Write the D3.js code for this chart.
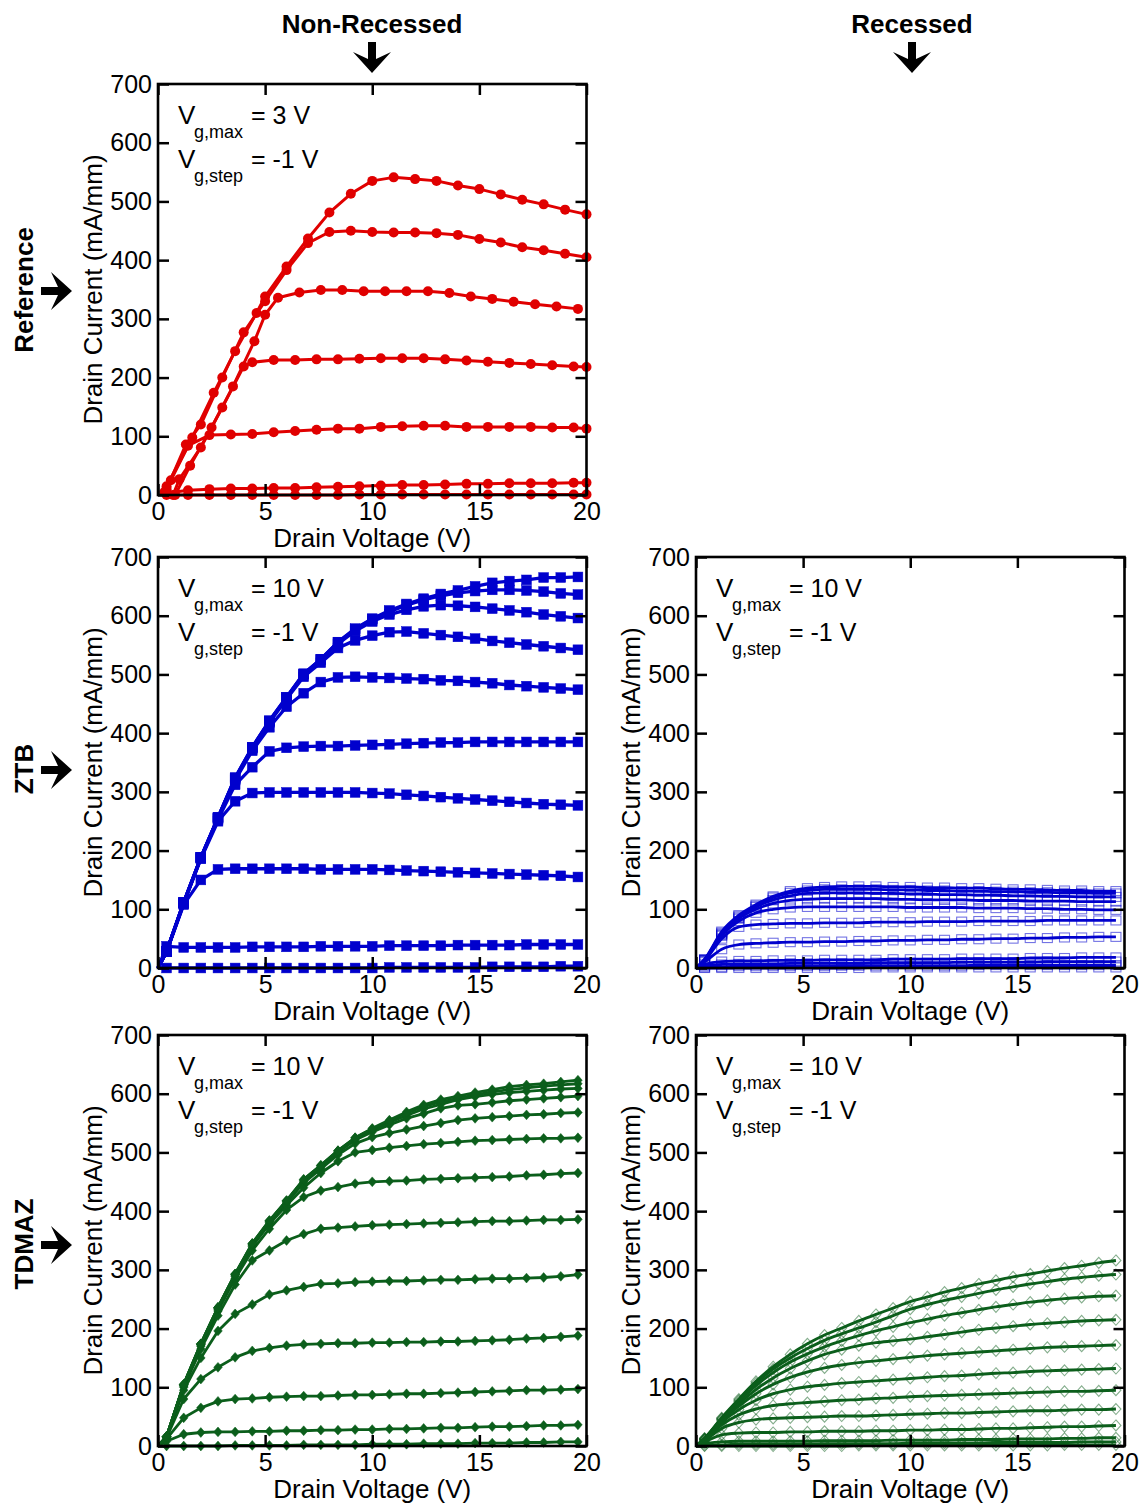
<!DOCTYPE html>
<html><head><meta charset="utf-8">
<script src="https://cdn.jsdelivr.net/npm/d3@7"></script>
<style>
html,body{margin:0;padding:0;background:#fff;}
text{font-family:"Liberation Sans",Arial,sans-serif;fill:#000;}
</style></head>
<body><svg id="c" width="1144" height="1505"></svg>
<script>
// ---------------- DATA ----------------
const xTicks = [0, 5, 10, 15, 20];
const yTicks = [0, 100, 200, 300, 400, 500, 600, 700];
const colLabels = ["Non-Recessed", "Recessed"];
const rowLabels = ["Reference", "ZTB", "TDMAZ"];
const xTitle = "Drain Voltage (V)";
const yTitle = "Drain Current (mA/mm)";
const vgMaxLabels = ["= 3 V", "= 10 V", "= 10 V", "= 10 V", "= 10 V"];
const vgStepLabels = ["= -1 V", "= -1 V", "= -1 V", "= -1 V", "= -1 V"];
const origin = [0, 0];

// Reference (non-recessed): each curve is a list of [Vd, Id]
const refCurves = [
 [[0.3,5],[0.6,25],[1.6,98],[2.6,174],[3.6,245],[4.6,310],[5,338],[6,389],[7,437],[8,481],[9,513],[10,535],[11,541],[12,538],[13,535],[14,527],[15,521],[16,512],[17,503],[18,495],[19,486],[20,478]],
 [[0.4,10],[1.3,86],[2.0,120],[3.0,200],[4.0,277],[5.0,330],[6.0,383],[7.0,429],[8,448],[9,450],[10,448],[11,447],[12,447],[13,446],[14,443],[15,436],[16,430],[17,422],[18,417],[19,411],[20,405]],
 [[0.8,0],[1.5,50],[2.5,115],[3.5,185],[4.5,262],[5.0,307],[5.6,336],[6.6,345],[7.6,349],[8.6,349],[9.6,347],[10.6,347],[11.6,347],[12.6,347],[13.6,344],[14.6,338],[15.6,334],[16.6,329],[17.6,325],[18.6,321],[19.6,317]],
 [[0.7,0],[1.0,27],[2.0,81],[3.0,149],[4.0,219],[4.4,226],[5.4,230],[6.4,230],[7.4,231],[8.4,231],[9.4,232],[10.4,233],[11.4,233],[12.4,233],[13.4,231],[14.4,229],[15.4,227],[16.4,225],[17.4,223],[18.4,221],[19.4,219],[20,218]],
 [[0.4,15],[1.4,84],[2.4,102],[3.4,103],[4.4,104],[5.4,107],[6.4,109],[7.4,111],[8.4,113],[9.4,113],[10.4,116],[11.4,117],[12.4,118],[13.4,118],[14.4,116],[15.4,116],[16.4,116],[17.4,116],[18.4,115],[19.4,115],[20,113]],
 [[0.4,3],[1.4,8],[2.4,10],[3.4,11],[4.4,11],[5.4,12],[6.4,12],[7.4,13],[8.4,14],[9.4,15],[10.4,16],[11.4,17],[12.4,17],[13.4,18],[14.4,19],[15.4,19],[16.4,20],[17.4,20],[18.4,20],[19.4,21],[20,21]],
 [[0.4,0],[1.4,0],[2.4,0],[3.4,0],[4.4,0],[5.4,0],[6.4,0],[7.4,0],[8.4,0],[9.4,1],[10.4,1],[11.4,1],[12.4,1],[13.4,1],[14.4,1],[15.4,1],[16.4,1],[17.4,1],[18.4,1],[19.4,1],[20,1]]
];

// Drain voltage sweep used by the ZTB / TDMAZ devices
const vdGrid = [0.4,1.2,2.0,2.8,3.6,4.4,5.2,6.0,6.8,7.6,8.4,9.2,10.0,10.8,11.6,12.4,13.2,14.0,14.8,15.6,16.4,17.2,18.0,18.8,19.6];

const ztbNonRecessed = [
 [0,0,0,0,0,0,0,0,0,0,0,0,0,1,1,1,1,1,1,2,2,2,2,3,3],
 [37,35,35,35,35,36,36,36,36,37,37,37,37,38,38,38,38,39,39,39,39,40,40,40,40],
 [28,108,150,168,169,169,169,169,169,168,168,168,168,167,166,165,164,163,162,161,160,159,158,157,155],
 [28,110,186,250,284,298,299,299,299,299,299,299,298,297,295,293,291,289,287,285,283,281,279,278,277],
 [28,110,187,253,312,342,369,375,377,378,378,379,380,381,382,383,384,384,385,385,385,385,385,385,385],
 [28,111,188,255,320,370,410,445,468,487,495,496,495,494,493,492,490,489,487,485,482,480,478,476,474],
 [28,111,188,256,322,374,418,458,496,520,545,558,566,572,573,570,567,564,561,557,554,551,548,545,542],
 [28,112,188,256,323,375,420,460,500,525,552,574,590,602,610,616,618,617,615,612,609,606,602,599,596],
 [28,112,188,256,324,376,421,461,501,526,555,577,594,607,618,627,634,639,642,644,644,643,641,638,636],
 [28,112,188,256,324,376,421,461,501,526,555,578,595,609,620,629,637,643,650,656,659,661,665,665,666]
];

const ztbRecessed = [
 [15,62,90,108,122,131,136,138,139,139,139,138,138,137,137,136,136,135,134,134,133,132,132,131,131],
 [14,60,88,106,120,128,132,134,134,134,134,133,133,132,132,131,131,130,130,129,129,128,128,127,127],
 [14,58,86,104,116,123,127,128,128,128,127,127,126,126,125,125,124,124,123,123,122,122,121,121,121],
 [13,56,84,100,110,115,117,118,118,118,118,117,117,116,116,116,115,115,115,114,114,114,113,113,113],
 [13,55,80,94,100,103,104,104,104,104,104,104,103,103,103,103,102,102,102,101,101,100,100,99,99],
 [12,50,70,74,75,76,76,77,77,77,78,78,78,79,79,79,80,80,80,80,81,81,81,81,81],
 [10,32,40,42,43,44,44,45,45,46,46,47,47,48,48,49,49,50,50,51,51,52,52,53,53],
 [6,11,12,12,13,13,13,14,14,14,14,15,15,15,15,16,16,16,16,17,17,17,18,18,18],
 [3,6,7,7,7,8,8,8,8,8,9,9,9,9,9,10,10,10,10,10,11,11,11,11,11],
 [1,2,3,3,3,3,3,3,4,4,4,4,4,4,4,4,5,5,5,5,5,5,5,5,5],
 [0,0,0,0,0,0,0,0,0,0,1,1,1,1,1,1,1,1,1,1,1,1,1,1,1]
];

const tdmazNonRecessed = [
 [0,0,0,0,1,1,1,1,2,2,2,2,3,3,3,4,4,4,5,5,5,6,6,7,7],
 [8,20,23,24,24,25,25,26,26,27,27,28,28,29,29,30,31,31,32,33,33,34,35,35,36],
 [12,48,65,76,80,81,83,84,85,85,86,87,87,88,89,89,90,91,92,93,94,95,95,96,97],
 [14,80,114,134,151,162,167,171,173,174,175,175,176,176,177,177,178,178,179,180,181,183,184,186,188],
 [15,95,150,196,225,241,258,265,271,276,277,279,280,281,281,282,283,283,284,285,285,286,287,289,292],
 [15,100,165,222,275,316,333,350,361,370,372,374,376,377,378,379,380,381,382,383,383,384,385,385,386],
 [16,102,170,230,285,333,370,402,424,435,441,447,450,451,452,454,455,456,457,458,459,461,462,464,465],
 [16,103,172,233,289,340,378,410,440,465,485,500,504,508,511,514,516,518,520,521,522,523,524,524,525],
 [16,104,173,234,291,342,381,414,448,472,496,515,526,533,539,545,550,555,558,560,562,564,565,567,568],
 [16,104,173,235,292,343,382,416,451,475,500,521,535,547,558,566,575,580,582,585,588,590,592,594,596],
 [16,105,174,236,292,344,383,417,452,477,502,523,538,551,563,574,582,590,595,599,602,604,606,608,609],
 [16,105,174,236,293,345,384,418,454,478,503,525,540,554,567,578,586,592,598,603,607,610,613,615,617],
 [16,105,174,236,293,345,384,418,454,478,503,525,541,555,569,581,590,596,602,607,612,615,617,620,623]
];

const tdmazRecessed = [
 [13,48,80,110,135,156,174,189,201,213,224,235,246,254,262,269,276,282,288,293,298,303,307,312,316],
 [13,47,78,107,131,150,166,180,191,201,211,222,233,241,248,254,260,266,271,276,280,284,287,290,292],
 [12,46,76,103,125,143,157,169,179,188,196,203,210,216,222,227,232,237,241,245,248,251,253,255,256],
 [12,45,72,96,116,132,145,156,164,171,176,179,182,186,190,194,198,201,204,207,209,211,213,214,215],
 [11,43,68,89,105,117,126,133,138,142,145,148,151,154,156,158,160,162,164,166,168,169,170,171,172],
 [11,40,62,78,89,96,101,104,107,109,111,113,115,117,119,120,122,124,125,127,128,129,130,131,132],
 [10,36,53,63,69,72,74,76,78,79,81,82,84,85,86,87,88,89,90,91,92,93,93,94,95],
 [9,30,40,45,47,48,49,50,51,51,52,53,54,55,56,56,57,58,59,60,60,61,62,62,63],
 [7,19,22,23,23,24,24,25,25,25,26,26,27,27,28,28,29,30,30,31,32,33,33,34,35],
 [4,7,8,8,8,8,8,9,9,9,9,10,10,10,10,11,11,11,12,12,12,13,13,14,14],
 [1,2,3,3,3,3,3,4,4,4,4,4,5,5,5,5,5,6,6,6,6,6,7,7,7],
 [0,0,0,0,0,0,0,0,0,1,1,1,1,1,1,1,1,1,1,1,1,2,2,2,2]
];

// ---------------- LAYOUT / STYLE ----------------
const colX = [158, 696], PW = 428.5;
const rowY = [84, 557, 1035], PH = 411;
const FONT = '"Liberation Sans", Arial, sans-serif';
const RED = "#e00000", BLUE = "#0000cd", GREEN = "#0b5e1b";

const toPts = arr => [origin].concat(arr.map((v, i) => [vdGrid[i], v]));

const panels = [
  {r:0, c:0, curves: refCurves, color: RED, marker: "circle", filled: true, lw: 3, smooth: false, withOrigin: false},
  {r:1, c:0, curves: ztbNonRecessed.map(toPts), color: BLUE, marker: "square", filled: true, lw: 3.3, smooth: false, withOrigin: true},
  {r:1, c:1, curves: ztbRecessed.map(toPts), color: BLUE, marker: "square", filled: false, lw: 2.8, smooth: true, withOrigin: true},
  {r:2, c:0, curves: tdmazNonRecessed.map(toPts), color: GREEN, marker: "diamond", filled: true, lw: 2.8, smooth: false, withOrigin: true},
  {r:2, c:1, curves: tdmazRecessed.map(toPts), color: GREEN, marker: "diamond", filled: false, lw: 2.9, smooth: true, withOrigin: true}
];

const svg = d3.select("#c");

panels.forEach((p, pi) => {
  const x0 = colX[p.c], y0 = rowY[p.r];
  const x = d3.scaleLinear().domain([0, 20]).range([x0, x0 + PW]);
  const y = d3.scaleLinear().domain([0, 700]).range([y0 + PH, y0]);
  const g = svg.append("g");

  const line = d3.line().x(d => x(d[0])).y(d => y(d[1]))
    .curve(p.smooth ? d3.curveMonotoneX : d3.curveLinear);

  const drawMarkers = () => {
    p.curves.forEach(cv => {
      const pts = p.withOrigin ? cv.slice(1) : cv;
      const mg = g.append("g");
      pts.forEach(d => {
        const cx = x(d[0]), cy = y(d[1]);
        if (p.marker === "circle") {
          mg.append("circle").attr("cx", cx).attr("cy", cy).attr("r", 5).attr("fill", p.color);
        } else if (p.marker === "square") {
          const w = p.filled ? 9.8 : 10, h = p.filled ? 9.8 : 9;
          mg.append("rect").attr("x", cx - w/2).attr("y", cy - h/2).attr("width", w).attr("height", h)
            .attr("fill", p.filled ? p.color : "none")
            .attr("stroke", p.color).attr("stroke-width", p.filled ? 0.5 : 1.1)
            .attr("stroke-opacity", p.filled ? 1 : 0.55);
        } else {
          const w = p.filled ? 4.3 : 5, h = p.filled ? 4.9 : 5.5;
          mg.append("path").attr("d", `M${cx},${cy-h}L${cx+w},${cy}L${cx},${cy+h}L${cx-w},${cy}Z`)
            .attr("fill", p.filled ? p.color : "none")
            .attr("stroke", p.color).attr("stroke-width", p.filled ? 0.5 : 1.1)
            .attr("stroke-opacity", p.filled ? 1 : 0.5);
        }
      });
    });
  };
  const drawLines = () => {
    p.curves.forEach(cv => {
      g.append("path").attr("d", line(cv)).attr("fill", "none")
        .attr("stroke", p.color).attr("stroke-width", p.lw).attr("stroke-linejoin", "round");
    });
  };
  if (p.filled) { drawLines(); drawMarkers(); } else { drawMarkers(); drawLines(); }

  // Axes with inward ticks on all sides
  const tickStyle = sel => {
    sel.select(".domain").remove();
    sel.selectAll(".tick line").attr("stroke", "#000").attr("stroke-width", 2.5);
    sel.selectAll(".tick text").attr("font-family", FONT).attr("font-size", 25).attr("fill", "#000");
  };
  svg.append("g").attr("transform", `translate(${x0},0)`)
    .call(d3.axisLeft(y).tickValues(yTicks).tickSize(-11).tickPadding(6).tickFormat(d3.format("d")))
    .call(tickStyle);
  svg.append("g").attr("transform", `translate(${x0 + PW},0)`)
    .call(d3.axisRight(y).tickValues(yTicks).tickSize(-11).tickFormat(""))
    .call(tickStyle);
  svg.append("g").attr("transform", `translate(0,${y0 + PH})`)
    .call(d3.axisBottom(x).tickValues(xTicks).tickSize(-11).tickPadding(7).tickFormat(d3.format("d")))
    .call(tickStyle);
  svg.append("g").attr("transform", `translate(0,${y0})`)
    .call(d3.axisTop(x).tickValues(xTicks).tickSize(-11).tickFormat(""))
    .call(tickStyle);

  svg.append("rect").attr("x", x0).attr("y", y0).attr("width", PW).attr("height", PH)
    .attr("fill", "none").attr("stroke", "#000").attr("stroke-width", 2.6);

  // Axis titles
  svg.append("text").attr("x", x0 + PW/2).attr("y", y0 + PH + 52)
    .attr("text-anchor", "middle").attr("font-size", 26).text(xTitle);
  svg.append("text").attr("transform", `translate(${x0 - 56},${y0 + PH/2}) rotate(-90)`)
    .attr("text-anchor", "middle").attr("font-size", 26).text(yTitle);

  // Annotation
  const ax = x0 + 20;
  const ann = [[vgMaxLabels[pi], "g,max", 40], [vgStepLabels[pi], "g,step", 84]];
  ann.forEach(([val, sub, dy]) => {
    svg.append("text").attr("x", ax).attr("y", y0 + dy).attr("font-size", 26).text("V");
    svg.append("text").attr("x", ax + 16).attr("y", y0 + dy + 14).attr("font-size", 18).text(sub);
    svg.append("text").attr("x", ax + 73).attr("y", y0 + dy).attr("font-size", 25).text(val);
  });
});

// Arrows
function arrow(tx, ty, angle) {
  const pts = [[0,0],[-21,-19],[-14,-4],[-31,-4],[-31,4],[-14,4],[-21,19]];
  svg.append("polygon").attr("points", pts.map(p => p.join(",")).join(" "))
    .attr("transform", `translate(${tx},${ty}) rotate(${angle})`).attr("fill", "#000");
}

// Column headers
const colCenters = [372, 912];
colLabels.forEach((t, i) => {
  svg.append("text").attr("x", colCenters[i]).attr("y", 33).attr("text-anchor", "middle")
    .attr("font-size", 26).attr("font-weight", "bold").text(t);
  arrow(colCenters[i], 73, 90);
});

// Row headers
const rowCenters = [290, 769, 1244];
rowLabels.forEach((t, i) => {
  svg.append("text").attr("transform", `translate(33,${rowCenters[i]}) rotate(-90)`)
    .attr("text-anchor", "middle").attr("font-size", 26).attr("font-weight", "bold").text(t);
  arrow(72, rowCenters[i] + 1, 0);
});
</script></body></html>
